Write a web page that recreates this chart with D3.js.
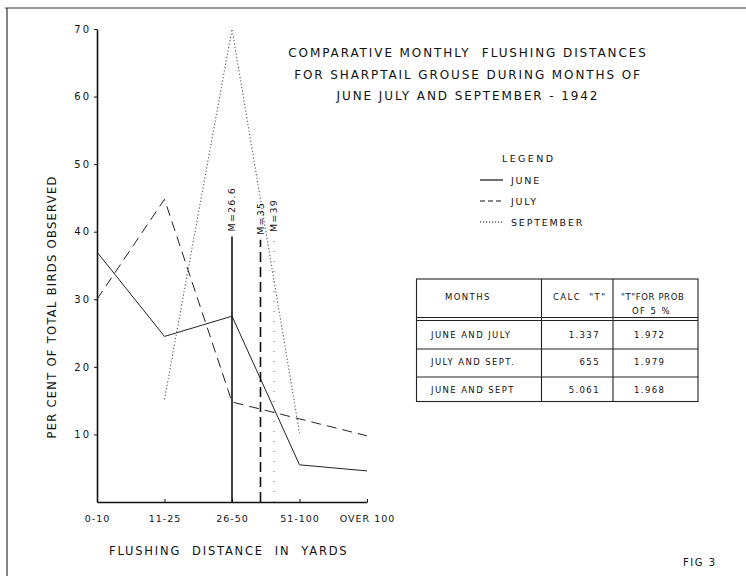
<!DOCTYPE html>
<html><head><meta charset="utf-8">
<script src="https://cdn.jsdelivr.net/npm/d3@7"></script>
<style>
body{margin:0;background:#fff;}
text{font-family:"DejaVu Sans",sans-serif;fill:#111;}
</style></head>
<body><svg id="c" width="746" height="579"></svg>
<script>
const categories = ["0-10","11-25","26-50","51-100","OVER 100"];
const june = [37, 24.5, 27.5, 5.5, 4.6];
const july = [30, 44.8, 14.8, 12.3, 9.8];
const september = [null, 15.2, 70, 10.2, null];
const yTicks = [10,20,30,40,50,60,70];
const meanValues = [26.6, 35, 39];
const meanTops = [39.3, 38.8, 39.2];
const meanLabels = ["M=26.6","M=35","M=39"];
const legendLabels = ["JUNE","JULY","SEPTEMBER"];
const titleLines = ["COMPARATIVE MONTHLY  FLUSHING DISTANCES","FOR SHARPTAIL GROUSE DURING MONTHS OF","JUNE JULY AND SEPTEMBER - 1942"];
const tableHeader = ["MONTHS",'CALC  "T"','"T"FOR PROB'];
const tableMonths = ["JUNE AND JULY","JULY AND SEPT.","JUNE AND SEPT"];
const tableCalcT = ["1.337","655","5.061"];
const tableProbT = ["1.972","1.979","1.968"];

const svg = d3.select("#c");
const dashes = ["none","10,6","1.2,2.2"];

// frame
svg.append("line").attr("x1",5).attr("x2",746).attr("y1",8).attr("y2",8).attr("stroke","#333").attr("stroke-width",1.2);
svg.append("line").attr("x1",7).attr("x2",7).attr("y1",8).attr("y2",576).attr("stroke","#333").attr("stroke-width",1.2);

const x = d3.scalePoint().domain(categories).range([97,367]);
const y = d3.scaleLinear().domain([0,70]).range([502,29]);
const xm = d3.scaleLinear().domain([26.6,46.5]).range([x("26-50"), x("51-100")]);

// axes
const yAxis = svg.append("g").attr("transform","translate(97,0)")
  .call(d3.axisLeft(y).tickValues(yTicks).tickSize(3).tickSizeOuter(0).tickFormat(d=>d));
yAxis.select(".domain").attr("stroke","#111").attr("stroke-width",1.6);
yAxis.selectAll(".tick line").attr("stroke","#111");
yAxis.selectAll(".tick text").attr("font-size",10).attr("letter-spacing","2px").attr("x",-6)
  .attr("font-family","DejaVu Sans").attr("fill","#111");

const xAxis = svg.append("g").attr("transform","translate(0,502)")
  .call(d3.axisBottom(x).tickSize(-3).tickSizeOuter(0));
xAxis.select(".domain").attr("stroke","#111").attr("stroke-width",1.6);
xAxis.selectAll(".tick line").attr("stroke","#111");
xAxis.selectAll(".tick text").attr("font-size",9.5).attr("letter-spacing","1px").attr("y",13)
  .attr("font-family","DejaVu Sans").attr("fill","#111");

// series
const series = [june, july, september];
series.forEach((s,i)=>{
  const line = d3.line().defined(d=>d!=null).x((d,j)=>x(categories[j])).y(d=>y(d));
  svg.append("path").datum(s).attr("d",line).attr("fill","none")
    .attr("stroke", i===2 ? "#555" : "#222").attr("stroke-width", i===2?1.1:1)
    .attr("stroke-dasharray", dashes[i]);
});

// mean lines
meanValues.forEach((m,i)=>{
  const xx = xm(m);
  svg.append("line").attr("x1",xx).attr("x2",xx).attr("y1",y(0)).attr("y2",y(meanTops[i]))
    .attr("stroke", i===2 ? "#666" : "#111").attr("stroke-width", i===2?1:1.6)
    .attr("stroke-dasharray", i===0?"none":(i===1?"10,5":"1,9"));
  svg.append("text").attr("transform",`translate(${xx},${y(meanTops[i])-5}) rotate(-90)`)
    .attr("dy","0.35em").attr("font-size",9.5).attr("letter-spacing","1.2px")
    .text(meanLabels[i]);
});

// axis titles
svg.append("text").attr("transform","translate(56,307) rotate(-90)").attr("text-anchor","middle")
  .attr("font-size",11.5).attr("letter-spacing","1.3px").text("PER CENT OF TOTAL BIRDS OBSERVED");
svg.append("text").attr("x",109).attr("y",555).attr("font-size",11.5).attr("letter-spacing","1.8px")
  .attr("xml:space","preserve").text("FLUSHING  DISTANCE  IN  YARDS");

// title
titleLines.forEach((t,i)=>{
  svg.append("text").attr("x",468).attr("y",57+i*21.5).attr("text-anchor","middle")
    .attr("font-size",12).attr("letter-spacing","1.9px").attr("xml:space","preserve").text(t);
});

// legend
svg.append("text").attr("x",502).attr("y",162).attr("font-size",9.5)
  .attr("letter-spacing","2.4px").text("LEGEND");
legendLabels.forEach((l,i)=>{
  const yy = 180 + i*21;
  svg.append("line").attr("x1",480).attr("x2",503).attr("y1",yy).attr("y2",yy)
    .attr("stroke","#111").attr("stroke-width",1.2).attr("stroke-dasharray", i===0?"none":(i===1?"5,3":"1.2,1.8"));
  svg.append("text").attr("x",511).attr("y",yy+4).attr("font-size",9.5)
    .attr("letter-spacing","1.8px").text(l);
});

// table
const tx = [416.5,541.5,613,698], ty = [279,317.5,349,377,401.5];
const tg = svg.append("g").attr("stroke","#222").attr("stroke-width",1.1);
tg.append("rect").attr("x",tx[0]).attr("y",ty[0]).attr("width",tx[3]-tx[0]).attr("height",ty[4]-ty[0]).attr("fill","none");
tg.append("line").attr("x1",tx[0]).attr("x2",tx[3]).attr("y1",ty[1]).attr("y2",ty[1]);
tg.append("line").attr("x1",tx[0]).attr("x2",tx[3]).attr("y1",ty[1]+3).attr("y2",ty[1]+3);
[ty[2],ty[3]].forEach(v=>tg.append("line").attr("x1",tx[0]).attr("x2",tx[3]).attr("y1",v).attr("y2",v));
[tx[1],tx[2]].forEach(v=>tg.append("line").attr("x1",v).attr("x2",v).attr("y1",ty[0]).attr("y2",ty[4]));
const tt = (x0,y0,s,anchor,ls)=>svg.append("text").attr("x",x0).attr("y",y0).attr("font-size",8.5)
  .attr("letter-spacing",(ls||1.4)+"px").attr("text-anchor",anchor||"start").attr("xml:space","preserve").text(s);
tt(445,299.5,tableHeader[0]);
tt(553,299.5,tableHeader[1]);
tt(621,299.5,tableHeader[2],"start",0.6);
tt(632,313.5,"OF 5 %");
tableMonths.forEach((m,i)=>{
  const yy = [337.5,365,392.5][i];
  tt(431,yy,m);
  tt(600,yy,tableCalcT[i],"end");
  tt(634,yy,tableProbT[i]);
});

svg.append("text").attr("x",683).attr("y",566).attr("font-size",10).attr("letter-spacing","1.5px")
  .attr("xml:space","preserve").text("FIG 3");
</script></body></html>
